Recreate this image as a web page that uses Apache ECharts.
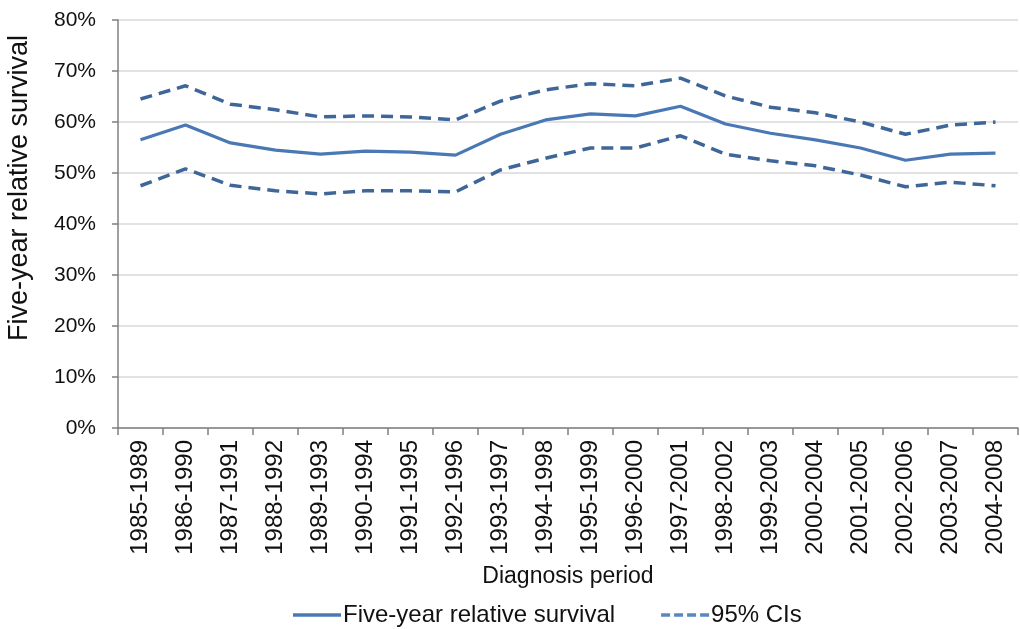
<!DOCTYPE html>
<html><head><meta charset="utf-8">
<script src="https://cdn.jsdelivr.net/npm/echarts@6/dist/echarts.min.js"></script>
<style>html,body{margin:0;padding:0;background:#fff}#c{width:1020px;height:629px}</style>
</head><body><div id="c"></div>
<script>
const categories = ['1985-1989','1986-1990','1987-1991','1988-1992','1989-1993','1990-1994','1991-1995','1992-1996','1993-1997','1994-1998','1995-1999','1996-2000','1997-2001','1998-2002','1999-2003','2000-2004','2001-2005','2002-2006','2003-2007','2004-2008'];
const survival = [56.5,59.4,55.9,54.5,53.7,54.3,54.1,53.5,57.6,60.4,61.6,61.2,63.1,59.6,57.8,56.5,54.9,52.5,53.7,53.9];
const upperCI = [64.5,67.1,63.5,62.4,61.0,61.2,61.0,60.4,64.1,66.3,67.5,67.1,68.6,65.1,62.9,61.8,60.0,57.6,59.4,60.0];
const lowerCI = [47.5,50.8,47.6,46.5,45.9,46.5,46.5,46.3,50.6,52.9,54.9,54.9,57.3,53.7,52.4,51.4,49.6,47.3,48.2,47.5];
const yTicks = [0,10,20,30,40,50,60,70,80];

const F = 'Liberation Sans, Arial, sans-serif';
const solidColor = '#4a78b5';
const dashColor = '#3f6699';
const chart = echarts.init(document.getElementById('c'));
chart.setOption({
  animation: false,
  backgroundColor: '#fff',
  grid: {left: 118, right: 2, top: 20, bottom: 201, containLabel: false},
  legend: {
    left: 288, top: 598, itemWidth: 48, itemHeight: 14, itemGap: 46,
    textStyle: {fontFamily: F, fontSize: 24, color: '#111', padding: [0,0,0,-3]},
    data: [
      {name: 'Five-year relative survival', icon: 'path://M0,5.5 L48,5.5 L48,9 L0,9 Z', itemStyle: {color: solidColor}},
      {name: '95% CIs', icon: 'path://M0,5.5 L9,5.5 L9,9 L0,9 Z M13,5.5 L22,5.5 L22,9 L13,9 Z M26,5.5 L35,5.5 L35,9 L26,9 Z M39,5.5 L48,5.5 L48,9 L39,9 Z', itemStyle: {color: '#5b86c0'}}
    ]
  },
  xAxis: {
    type: 'category', data: categories, boundaryGap: true,
    name: 'Diagnosis period', nameLocation: 'middle', nameGap: 137,
    nameTextStyle: {fontFamily: F, fontSize: 23, color: '#111'},
    axisLine: {lineStyle: {color: '#808080', width: 1.5}},
    axisTick: {show: true, alignWithLabel: false, length: 7, lineStyle: {color: '#808080', width: 1.5}},
    axisLabel: {rotate: 90, margin: 12, fontFamily: F, fontSize: 24, color: '#111', interval: 0},
    splitLine: {show: false}
  },
  yAxis: {
    type: 'value', min: yTicks[0], max: yTicks[yTicks.length-1], interval: 10,
    axisLine: {show: true, lineStyle: {color: '#808080', width: 1.5}},
    axisTick: {show: true, length: 6, lineStyle: {color: '#808080', width: 1.5}},
    axisLabel: {margin: 22, fontFamily: F, fontSize: 21, color: '#111', formatter: v => v + '%'},
    splitLine: {lineStyle: {color: '#d9d9d9', width: 1.5}}
  },
  graphic: [{
    type: 'text', x: 20, y: 188, rotation: Math.PI/2,
    style: {text: 'Five-year relative survival', fontFamily: F, fontSize: 27, fill: '#111', textAlign: 'center', textVerticalAlign: 'middle'}
  }],
  series: [
    {name: '95% CIs', type: 'line', data: upperCI, symbol: 'none', lineStyle: {color: dashColor, width: 3.5, type: [12,7]}, itemStyle: {color: dashColor}},
    {name: '95% CIs', type: 'line', data: lowerCI, symbol: 'none', lineStyle: {color: dashColor, width: 3.5, type: [12,7]}, itemStyle: {color: dashColor}},
    {name: 'Five-year relative survival', type: 'line', data: survival, symbol: 'none', lineStyle: {color: solidColor, width: 3.2}, itemStyle: {color: solidColor}}
  ]
});
</script></body></html>
